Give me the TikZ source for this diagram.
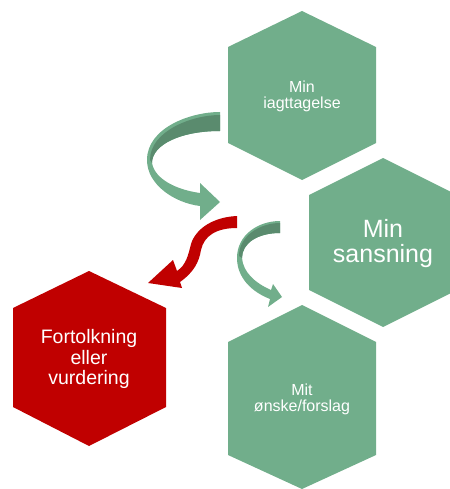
\documentclass[tikz,border=0pt]{standalone}
\usepackage{fontspec}
\setmainfont{Liberation Sans}
\definecolor{hexgreen}{RGB}{113,174,139}
\definecolor{darkgreen}{RGB}{90,139,110}
\definecolor{hexred}{RGB}{192,0,0}
\begin{document}
\begin{tikzpicture}[x=1pt,y=-1pt,
  lbl/.style={text=white, align=center, inner sep=0pt},
  small/.style={font=\fontsize{16}{16}\selectfont},
  big/.style={font=\fontsize{25}{25}\selectfont},
  mid/.style={font=\fontsize{19.5}{20.5}\selectfont}]
\useasboundingbox (0,0) rectangle (449,489);
% hexagons
\fill[hexgreen] (302,11) -- (376,47) -- (376,143) -- (302,180) -- (228,143) -- (228,47) -- cycle;
\fill[hexgreen] (383,158) -- (457,195) -- (457,290) -- (383,327) -- (309,290) -- (309,195) -- cycle;
\fill[hexgreen] (302,305) -- (376,342) -- (376,455) -- (302,489) -- (228,455) -- (228,342) -- cycle;
\fill[hexred] (89,271) -- (166,308) -- (166,407) -- (89,446) -- (13,407) -- (13,308) -- cycle;
% green arrow 1
\fill[hexgreen] (220,112) .. controls (190,112) and (147,128) .. (147,160)
  .. controls (147,185) and (175,203) .. (200,206) -- (200,220) -- (220,202) -- (200,183) -- (200,193)
  .. controls (178,190) and (155,180) .. (152,163)
  .. controls (152,145) and (180,131) .. (220,131) -- cycle;
\fill[darkgreen] (220,115) .. controls (192,115) and (150,131) .. (150,160) -- (152,163)
  .. controls (152,145) and (180,131) .. (220,131) -- cycle;
% green arrow 2
\fill[hexgreen] (280,221) .. controls (258,221) and (237,235) .. (237,258)
  .. controls (237,278) and (252,292) .. (270,299) -- (268,307) -- (282,297) -- (273,284) -- (271,290)
  .. controls (255,283) and (243,272) .. (242,258)
  .. controls (242,243) and (258,233) .. (280,233) -- cycle;
\fill[darkgreen] (280,223) .. controls (260,223) and (239,236) .. (239,256) -- (242,258)
  .. controls (242,243) and (258,233) .. (280,233) -- cycle;
% red arrow
\fill[hexred] (237,216) .. controls (214,217) and (196,228) .. (191,244)
  .. controls (188,256) and (186,265) .. (177,271) -- (173,260) -- (148,283) -- (182,288) -- (180,282)
  .. controls (194,272) and (199,262) .. (201,250)
  .. controls (204,236) and (216,228) .. (237,228) -- cycle;
% labels
\node[lbl, small] (t1) at (302,96) {Min\\iagttagelse};
\node[lbl, big] (t2) at (383,244) {Min\\sansning};
\node[lbl, small] (t3) at (302,399) {Mit\\ønske/forslag};
\node[lbl, mid] (t4) at (89,359) {Fortolkning\\eller\\vurdering};
\end{tikzpicture}
\end{document}
